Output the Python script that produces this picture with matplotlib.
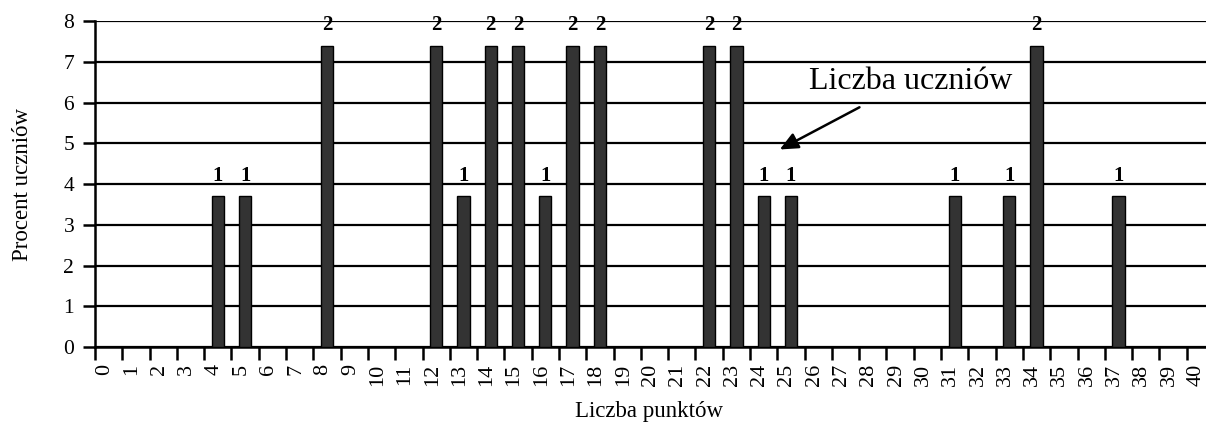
import matplotlib.pyplot as plt
from matplotlib.transforms import ScaledTranslation
import numpy as np

plt.rcParams['font.family'] = ['Liberation Serif', 'DejaVu Serif']

# points scored (0..40) and percentage of students
points = list(range(0, 41))
bar_points = [4, 5, 8, 12, 13, 14, 15, 16, 17, 18, 22, 23, 24, 25, 31, 33, 34, 37]
bar_counts = [1, 1, 2, 2, 1, 2, 2, 1, 2, 2, 2, 2, 1, 1, 1, 1, 2, 1]
bar_percent = [3.7, 3.7, 7.4, 7.4, 3.7, 7.4, 7.4, 3.7, 7.4, 7.4, 7.4, 7.4, 3.7, 3.7, 3.7, 3.7, 7.4, 3.7]

fig = plt.figure(figsize=(12.06, 4.25), dpi=100)
# axes runs a few pixels past the right edge, like the original
ax = fig.add_axes([95 / 1206, 78 / 425, 1119 / 1206, 325.7 / 425])

ax.bar(bar_points, bar_percent, width=0.45, color='#333333',
       edgecolor='black', linewidth=1, zorder=3)

for x, v, c in zip(bar_points, bar_percent, bar_counts):
    ax.text(x, v + 0.5, str(c), ha='center', va='center',
            fontsize=15, fontweight='bold', zorder=4)

ax.set_xlim(-0.5, 40.5)
ax.set_ylim(0, 8)

# category axis: labels at centres, tick marks on boundaries
ax.set_xticks(points)
ax.set_xticklabels([str(p) for p in points], rotation=90, fontsize=16)
ax.set_xticks(np.arange(-0.5, 41, 1), minor=True)
ax.tick_params(axis='x', which='major', length=0, pad=12)
ax.tick_params(axis='x', which='minor', length=9, width=1.8, direction='out')
# labels sit a little left of the category centre
shift = ScaledTranslation(-4 / 100, 0, fig.dpi_scale_trans)
for lab in ax.get_xticklabels():
    lab.set_transform(lab.get_transform() + shift)

ax.set_yticks(range(0, 9))
ax.tick_params(axis='y', length=9, width=1.8, direction='out', labelsize=15.5, pad=6)

ax.grid(axis='y', color='black', linewidth=1.6, zorder=0)
ax.set_axisbelow(True)

for s in ['top', 'right']:
    ax.spines[s].set_visible(False)
ax.spines['left'].set_linewidth(1.8)
ax.spines['bottom'].set_linewidth(1.8)

ax.set_xlabel('Liczba punktów', fontsize=16.5)
ax.xaxis.set_label_coords(0.495, -0.165)
ax.set_ylabel('Procent uczniów', fontsize=16.5)
ax.yaxis.set_label_coords(-0.055, 0.5)

ax.text(29.4, 6.52, 'Liczba uczniów', fontsize=23, ha='center', va='center')
ax.annotate('', xy=(24.5, 4.82), xytext=(27.6, 5.92),
            arrowprops=dict(arrowstyle='-|>,head_length=1.1,head_width=0.5',
                            color='black', lw=1.8))

fig.savefig('out.png', dpi=100)
plt.close(fig)
